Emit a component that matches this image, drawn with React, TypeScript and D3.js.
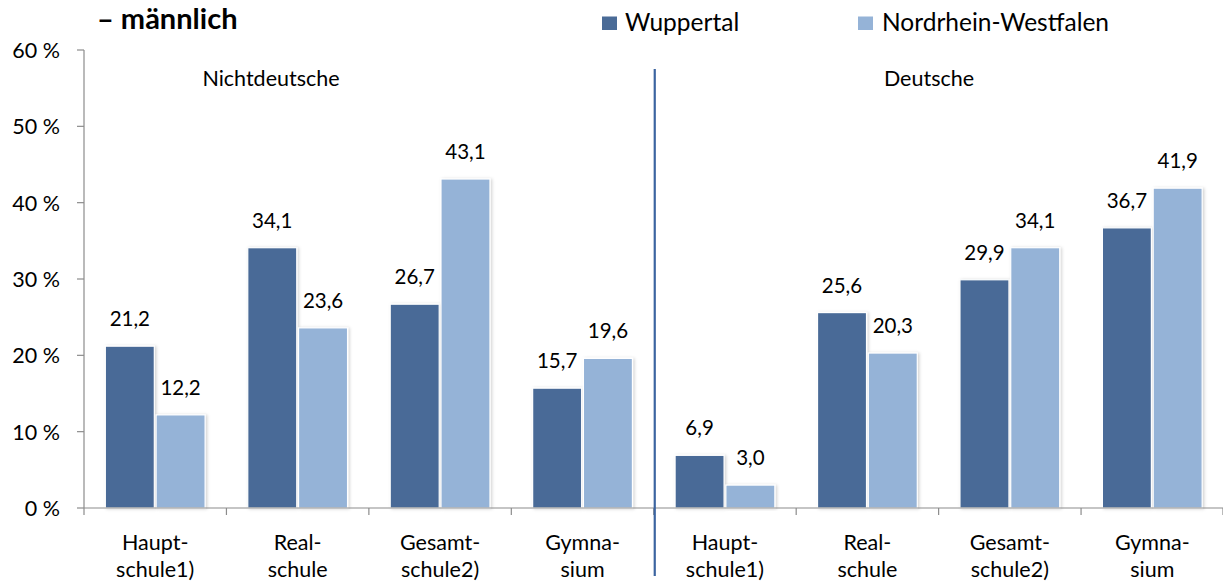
import React from "react";
import * as d3 from "d3";

const categories = ["Haupt-|schule1)", "Real-|schule", "Gesamt-|schule2)", "Gymna-|sium", "Haupt-|schule1)", "Real-|schule", "Gesamt-|schule2)", "Gymna-|sium"];
const wuppertal = [21.2, 34.1, 26.7, 15.7, 6.9, 25.6, 29.9, 36.7];
const nrw = [12.2, 23.6, 43.1, 19.6, 3.0, 20.3, 34.1, 41.9];
const yTicks = [0, 10, 20, 30, 40, 50, 60];
const seriesNames = ["Wuppertal", "Nordrhein-Westfalen"];
const groupLabels = ["Nichtdeutsche", "Deutsche"];
const title = "– männlich";

const W = 1223, H = 583;
const FONT = "Lato, 'Open Sans', sans-serif";
const DARK = "#4a6b97";
const LIGHT = "#95b3d7";

export default function App() {
  const x0 = 84, x1 = 1223.5;
  const yBottom = 508, yTop = 50;
  const idx = categories.map((_, i) => String(i));
  const x = d3.scaleBand<string>().domain(idx).range([x0, x1]).paddingInner(0).paddingOuter(0);
  const bw = x.bandwidth();
  const inner = d3.scaleBand<string>().domain(["w", "n"]).range([0, bw]).paddingInner(0.035).paddingOuter(0.42);
  const y = d3.scaleLinear().domain([0, 60]).range([yBottom, yTop]);
  const fmt = (v: number) => v.toFixed(1).replace(".", ",");
  const divX = x0 + bw * 4 + 1;

  const bars: any[] = [];
  categories.forEach((c, i) => {
    [["w", wuppertal[i], DARK], ["n", nrw[i], LIGHT]].forEach(([k, v, col]: any) => {
      const bx = (x(String(i)) as number) + (inner(k) as number);
      bars.push(
        <g key={i + k}>
          <rect x={bx} y={y(v)} width={inner.bandwidth()} height={yBottom - y(v)} fill={col} stroke="#fff" strokeWidth={1.2} filter="url(#sh)" />
          <text x={bx + inner.bandwidth() / 2} y={y(v) - 20} textAnchor="middle" fontSize={20.5} fontFamily={FONT} fill="#000">{fmt(v)}</text>
        </g>
      );
    });
  });

  return (
    <svg width={W} height={H} style={{ position: "absolute", left: 0, top: 0, background: "#fff" }}>
      <defs>
        <filter id="sh" x="-10%" y="-10%" width="130%" height="120%">
          <feDropShadow dx={1.5} dy={0.5} stdDeviation={1.5} floodColor="#000" floodOpacity={0.18} />
        </filter>
      </defs>
      <rect width={W} height={H} fill="#fff" />
      <text x={97} y={29} fontSize={29} fontWeight="bold" fontFamily={FONT} fill="#000">{title}</text>
      {/* legend */}
      <rect x={602} y={16.5} width={15} height={13.5} fill={DARK} />
      <text x={625} y={31} fontSize={24.5} fontFamily={FONT} fill="#000">{seriesNames[0]}</text>
      <rect x={858} y={16.5} width={15} height={13.5} fill={LIGHT} />
      <text x={882} y={31} fontSize={24.5} fontFamily={FONT} fill="#000">{seriesNames[1]}</text>
      {/* y axis */}
      <line x1={x0} x2={x0} y1={yTop} y2={yBottom} stroke="#8c8c8c" strokeWidth={1.2} />
      {yTicks.map(t => (
        <g key={t}>
          <line x1={x0 - 7} x2={x0} y1={y(t)} y2={y(t)} stroke="#8c8c8c" strokeWidth={1.2} />
          <text x={60} y={y(t) + 8} textAnchor="end" fontSize={21.5} fontFamily={FONT} fill="#000">{t} %</text>
        </g>
      ))}
      {bars}
      {/* x axis */}
      <line x1={x0} x2={x1} y1={yBottom} y2={yBottom} stroke="#8c8c8c" strokeWidth={1.2} />
      {idx.map((d) => (
        <line key={d} x1={x(d) as number} x2={x(d) as number} y1={yBottom} y2={yBottom + 7} stroke="#8c8c8c" strokeWidth={1.2} />
      ))}
      <line x1={x1 - 0.5} x2={x1 - 0.5} y1={yBottom} y2={yBottom + 7} stroke="#8c8c8c" strokeWidth={1.2} />
      {categories.map((c, i) => {
        const cx = (x(String(i)) as number) + bw / 2;
        const [a, b] = c.split("|");
        return (
          <text key={i} textAnchor="middle" fontSize={21.5} fontFamily={FONT} fill="#000">
            <tspan x={cx} y={550}>{a}</tspan>
            <tspan x={cx} y={577}>{b}</tspan>
          </text>
        );
      })}
      <line x1={divX} x2={divX} y1={69} y2={576} stroke="#3b64a0" strokeWidth={2.2} />
      <text x={271} y={86} textAnchor="middle" fontSize={21.5} fontFamily={FONT} fill="#000">{groupLabels[0]}</text>
      <text x={929} y={86} textAnchor="middle" fontSize={21.5} fontFamily={FONT} fill="#000">{groupLabels[1]}</text>
    </svg>
  );
}
